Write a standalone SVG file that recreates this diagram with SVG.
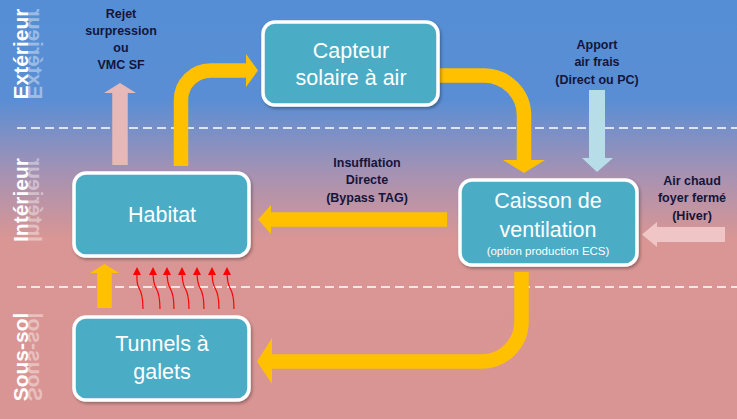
<svg xmlns="http://www.w3.org/2000/svg" width="737" height="419" viewBox="0 0 737 419">
<defs>
<linearGradient id="bg" x1="0" y1="0" x2="0" y2="419" gradientUnits="userSpaceOnUse">
<stop offset="0" stop-color="#558ed5"/>
<stop offset="0.24" stop-color="#5a8ed4"/>
<stop offset="0.42" stop-color="#a892b2"/>
<stop offset="0.57" stop-color="#d99694"/>
<stop offset="1" stop-color="#d99594"/>
</linearGradient>
<linearGradient id="fade" x1="0" y1="0" x2="0" y2="14" gradientUnits="userSpaceOnUse">
<stop offset="0" stop-color="#fff" stop-opacity="0.4"/>
<stop offset="1" stop-color="#fff" stop-opacity="0"/>
</linearGradient>
<filter id="sh" x="-10%" y="-10%" width="125%" height="130%">
<feDropShadow dx="1.5" dy="2" stdDeviation="1.5" flood-color="#000" flood-opacity="0.3"/>
</filter>
<marker id="rh" viewBox="0 0 8 8" refX="4" refY="4" markerWidth="8" markerHeight="8" markerUnits="userSpaceOnUse" orient="auto">
<path d="M0,0 L8,4 L0,8 Z" fill="#ff0000"/>
</marker>
<style>
.box{fill:#4bacc6;stroke:#fff;stroke-width:3.5;filter:url(#sh)}
.nt{font-family:"Liberation Sans",Arial,sans-serif;font-size:21.5px;fill:#fff;text-anchor:middle}
.st{font-family:"Liberation Sans",Arial,sans-serif;font-size:11.5px;fill:#fff;text-anchor:middle}
.lb{font-family:"Liberation Sans",Arial,sans-serif;font-size:12.5px;font-weight:bold;fill:#15153a;text-anchor:middle}
.side{font-family:"Liberation Sans",Arial,sans-serif;font-size:21px;font-weight:bold;fill:#fff;text-anchor:middle}
.refl{font-family:"Liberation Sans",Arial,sans-serif;font-size:21px;font-weight:bold;fill:url(#fade);text-anchor:middle}
.dash{stroke:#fff;stroke-width:1.5;stroke-dasharray:9 5;fill:none}
.yel{fill:none;stroke:#ffc000;stroke-width:14.5}
.red{fill:none;stroke:#ff0000;stroke-width:1.2}
</style>
</defs>
<rect x="0" y="0" width="737" height="419" fill="url(#bg)"/>
<line class="dash" x1="17" y1="128" x2="737" y2="128"/>
<line class="dash" x1="17" y1="287" x2="737" y2="287"/>
<g id="zone-labels">
<g transform="translate(28,54) rotate(-90)"><text class="side" x="0" y="0">Extérieur</text><text class="refl" x="0" y="0" transform="scale(1,-1)">Extérieur</text></g>
<g transform="translate(28,200) rotate(-90)"><text class="side" x="0" y="0">Intérieur</text><text class="refl" x="0" y="0" transform="scale(1,-1)">Intérieur</text></g>
<g transform="translate(28,357) rotate(-90)"><text class="side" x="0" y="0">Sous-sol</text><text class="refl" x="0" y="0" transform="scale(1,-1)">Sous-sol</text></g>
</g>
<g id="connectors">
<path class="yel" d="M181,166 V100 A29.5 29.5 0 0 1 210.5,70.5 H247"/>
<polygon points="246,54 258,70.5 246,87" fill="#ffc000"/>
<path class="yel" d="M440,75.5 H484 A40 40 0 0 1 524,115.5 V161"/>
<polygon points="503,160 545,160 524,173" fill="#ffc000"/>
<path class="yel" d="M447,219.5 H269"/>
<polygon points="271,205 258,219.5 271,234" fill="#ffc000"/>
<path class="yel" d="M521.5,272 V321.5 A40 40 0 0 1 481.5,361.5 H270"/>
<polygon points="272,338 257,361.5 272,384" fill="#ffc000"/>
<path class="yel" d="M104.5,308 V272"/>
<polygon points="90,273 119,273 104.5,264" fill="#ffc000"/>
<path d="M120,165 V92" fill="none" stroke="#e6b9b8" stroke-width="15.5"/>
<polygon points="104,93 136,93 120,83" fill="#e6b9b8"/>
<path d="M597,90 V159" fill="none" stroke="#b7dee8" stroke-width="16"/>
<polygon points="582,158 613,158 597,172" fill="#b7dee8"/>
<path d="M725,234.5 H656" fill="none" stroke="#efc6c5" stroke-width="15"/>
<polygon points="657,222 657,247 642,234.5" fill="#efc6c5"/>
<g>
<path class="red" marker-end="url(#rh)" d="M143,309 C143,298 142,293 139,288 C136,283 137,278 137,271"/>
<path class="red" marker-end="url(#rh)" d="M160,309 C160,298 159,293 156,288 C153,283 153,278 153,271"/>
<path class="red" marker-end="url(#rh)" d="M174,309 C174,298 173,293 170,288 C167,283 167,278 167,271"/>
<path class="red" marker-end="url(#rh)" d="M189,309 C189,298 188,293 185,288 C182,283 182,278 182,271"/>
<path class="red" marker-end="url(#rh)" d="M204,309 C204,298 203,293 200,288 C197,283 197,278 197,271"/>
<path class="red" marker-end="url(#rh)" d="M219,309 C219,298 218,293 215,288 C212,283 212,278 212,271"/>
<path class="red" marker-end="url(#rh)" d="M234,309 C234,298 233,293 230,288 C227,283 227,278 227,271"/>
</g>
</g>
<g id="capteur">
<rect class="box" x="263" y="22" width="175" height="83" rx="12"/>
<text class="nt" x="351" y="58">Capteur</text>
<text class="nt" x="351" y="85">solaire à air</text>
</g>
<g id="habitat">
<rect class="box" x="74" y="173" width="175" height="83" rx="12"/>
<text class="nt" x="162" y="222">Habitat</text>
</g>
<g id="caisson">
<rect class="box" x="460" y="180" width="177" height="85" rx="12"/>
<text class="nt" x="548" y="208">Caisson de</text>
<text class="nt" x="548" y="237">ventilation</text>
<text class="st" x="548" y="255">(option production ECS)</text>
</g>
<g id="tunnels">
<rect class="box" x="74" y="317" width="175" height="83" rx="12"/>
<text class="nt" x="162" y="351">Tunnels à</text>
<text class="nt" x="162" y="379">galets</text>
</g>
<g id="labels">
<text class="lb" x="121" y="18">Rejet</text>
<text class="lb" x="121" y="35">surpression</text>
<text class="lb" x="121" y="52">ou</text>
<text class="lb" x="121" y="69">VMC SF</text>
<text class="lb" x="597" y="49">Apport</text>
<text class="lb" x="597" y="66">air frais</text>
<text class="lb" x="597" y="84">(Direct ou PC)</text>
<text class="lb" x="692" y="185">Air chaud</text>
<text class="lb" x="692" y="202">foyer fermé</text>
<text class="lb" x="692" y="220">(Hiver)</text>
<text class="lb" x="367" y="167">Insufflation</text>
<text class="lb" x="367" y="184">Directe</text>
<text class="lb" x="367" y="202">(Bypass TAG)</text>
</g>
</svg>
